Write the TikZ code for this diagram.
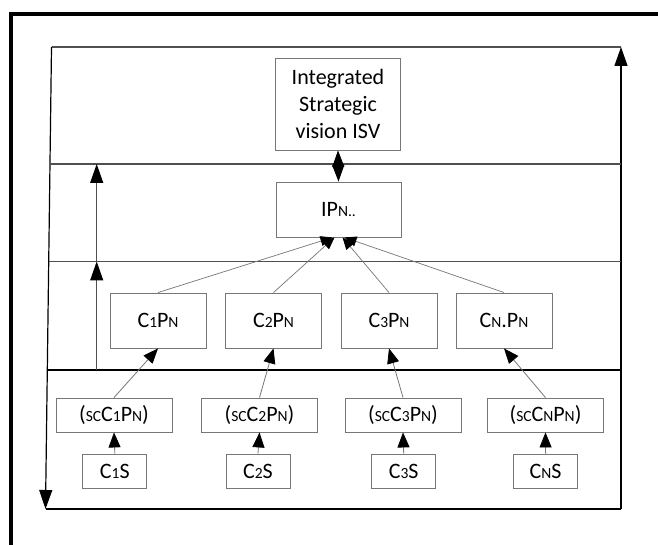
\documentclass[tikz,border=0pt]{standalone}
\usepackage{fontspec}
\setmainfont{Carlito}
\usetikzlibrary{arrows.meta,calc}
\newcommand{\smc}[1]{{\fontsize{15.5}{15.5}\selectfont #1}}
\definecolor{boxgray}{HTML}{777777}
\definecolor{sepgray}{HTML}{505050}
\begin{document}
\begin{tikzpicture}[x=1pt,y=1pt,
  box/.style={draw=boxgray,line width=0.9pt,fill=white,inner sep=0pt,align=center,
    font=\fontsize{22}{26.7}\selectfont},
  bigarrow/.style={line width=1.2pt,-{Triangle[length=19pt,width=13pt,color=black]}},
  midarrow/.style={draw=boxgray,line width=0.8pt,-{Triangle[length=15pt,width=12pt,color=black]}},
  smallarrow/.style={draw=boxgray,line width=0.7pt,-{Triangle[length=12pt,width=10pt,color=black]}},
  sepline/.style={draw=sepgray,line width=1.2pt}]
\clip (0,0) rectangle (658,545);
\fill[white] (0,0) rectangle (658,545);
% outer thick frame
\coordinate (fb) at (11,-10);
\coordinate (ft) at (11,531);
\coordinate (fr) at (670,531);
\draw[line width=3.5pt] (fb) -- (ft) -- (fr);
% inner frame
\coordinate (tl) at (51.5,498);
\coordinate (tr) at (621,498);
\coordinate (bl) at (45.5,36);
\coordinate (br) at (621,36);
\draw[sepline] (tl) -- (tr);
\draw[line width=1.2pt] (bl) -- (br);
\draw[bigarrow] (br) -- (tr);
\draw[bigarrow] (tl) -- (bl);
% separators
\coordinate (s1l) at (50,381);
\coordinate (s1r) at (621,381);
\coordinate (s2l) at (48.7,283.5);
\coordinate (s2r) at (621,283.5);
\coordinate (s3l) at (47.3,175);
\coordinate (s3r) at (621,175);
\draw[sepline] (s1l) -- (s1r);
\draw[sepline] (s2l) -- (s2r);
\draw[line width=1.2pt] (s3l) -- (s3r);
% up arrows on left
\coordinate (ua1) at (96.7,175);
\coordinate (ua2) at (96.7,283.5);
\coordinate (ua3) at (96.7,381);
\draw[bigarrow,draw=sepgray] (ua1) -- (ua2);
\draw[bigarrow,draw=sepgray] (ua2) -- (ua3);
% nodes
\node[box,minimum width=125pt,minimum height=92pt] (isv) at (338,441) {Integrated\\Strategic\\vision ISV};
\node[box,minimum width=125pt,minimum height=55pt] (ipn) at (338.5,335.5) {IP\smc{N..}};
\node[box,minimum width=96pt,minimum height=55pt] (c1) at (158,224.5) {C\smc{1}P\smc{N}};
\node[box,minimum width=96pt,minimum height=55pt] (c2) at (273.5,224.5) {C\smc{2}P\smc{N}};
\node[box,minimum width=96pt,minimum height=55pt] (c3) at (389,224.5) {C\smc{3}P\smc{N}};
\node[box,minimum width=96pt,minimum height=55pt] (c4) at (504,224.5) {C\smc{N}.P\smc{N}};
\node[box,minimum width=116pt,minimum height=34pt] (sc1) at (114,130) {(\smc{SC}C\smc{1}P\smc{N})};
\node[box,minimum width=116pt,minimum height=34pt] (sc2) at (259.5,130) {(\smc{SC}C\smc{2}P\smc{N})};
\node[box,minimum width=116pt,minimum height=34pt] (sc3) at (403,130) {(\smc{SC}C\smc{3}P\smc{N})};
\node[box,minimum width=116pt,minimum height=34pt] (sc4) at (545.5,130) {(\smc{SC}C\smc{N}P\smc{N})};
\node[box,minimum width=64pt,minimum height=34pt] (cs1) at (114.8,74) {C\smc{1}S};
\node[box,minimum width=64pt,minimum height=34pt] (cs2) at (258,74) {C\smc{2}S};
\node[box,minimum width=64pt,minimum height=34pt] (cs3) at (403.7,74) {C\smc{3}S};
\node[box,minimum width=64pt,minimum height=34pt] (cs4) at (545.6,74) {C\smc{N}S};
% diamond connector
\draw[line width=0.8pt,{Triangle[length=16.5pt,width=12pt,color=black]}-{Triangle[length=16.5pt,width=12pt,color=black]}] (isv.south) -- (ipn.north);
% C -> IPN
\draw[smallarrow] (c1.north) -- ($(ipn.south)+(-6,0)$);
\draw[smallarrow] (c2.north) -- ($(ipn.south)+(-4,0)$);
\draw[smallarrow] (c3.north) -- ($(ipn.south)+(4,0)$);
\draw[smallarrow] (c4.north) -- ($(ipn.south)+(6,0)$);
% SC -> C
\draw[midarrow] (sc1.north) -- (c1.south);
\draw[midarrow] (sc2.north) -- (c2.south);
\draw[midarrow] (sc3.north) -- (c3.south);
\draw[midarrow] (sc4.north) -- (c4.south);
% CS -> SC
\draw[midarrow] (cs1.north) -- (sc1.south);
\draw[midarrow] (cs2.north) -- (sc2.south);
\draw[midarrow] (cs3.north) -- (sc3.south);
\draw[midarrow] (cs4.north) -- (sc4.south);
\end{tikzpicture}
\end{document}
